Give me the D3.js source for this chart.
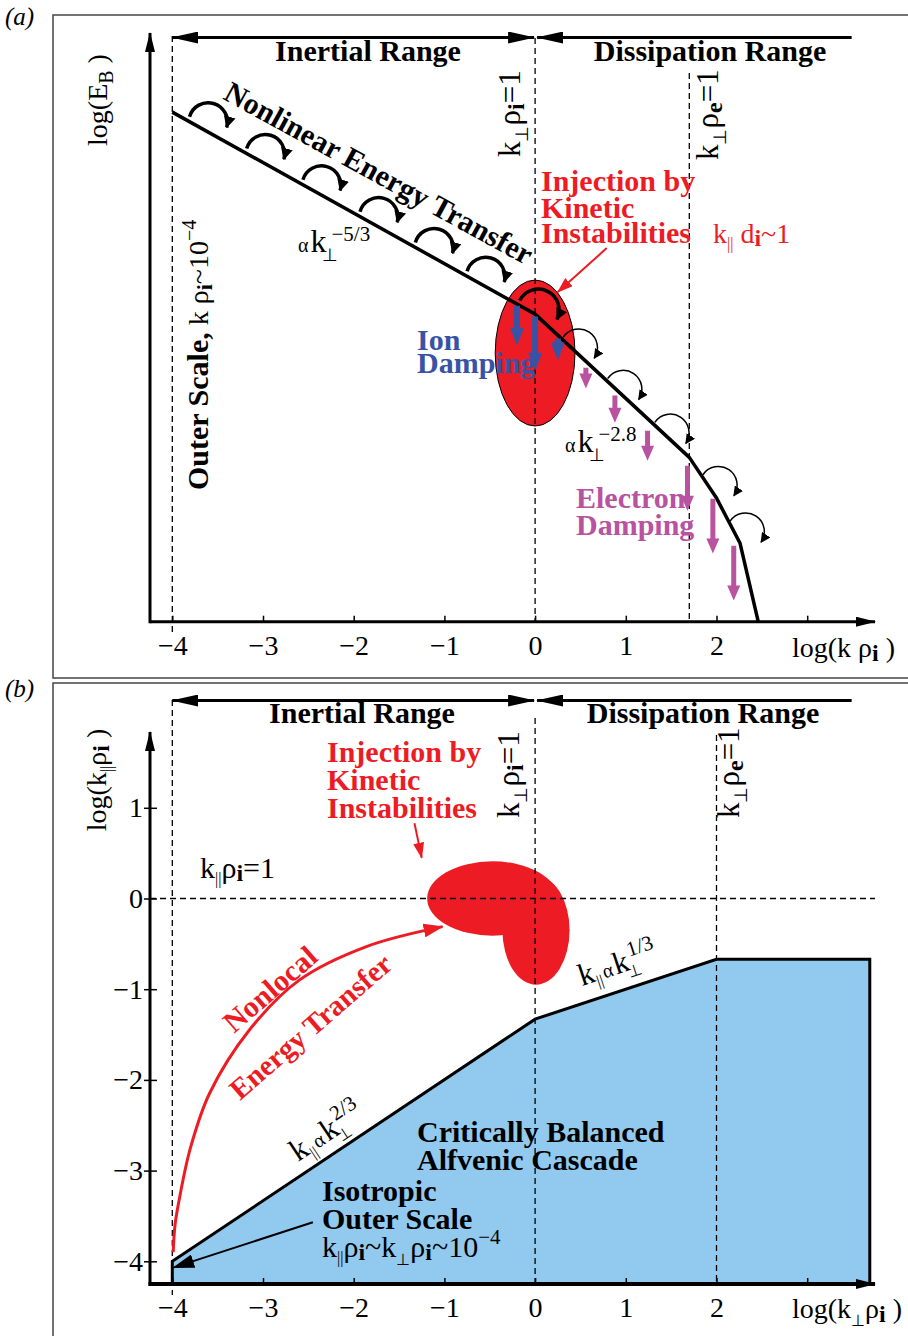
<!DOCTYPE html>
<html>
<head>
<meta charset="utf-8">
<script src="https://cdn.jsdelivr.net/npm/d3@7"></script>
<style>
  body { margin: 0; background: #fff; }
  svg text { font-family: "Liberation Serif", "Times New Roman", serif; }
</style>
</head>
<body>
<svg width="908" height="1336"></svg>
<script>
// ---- data ----
const xTicks = [-4, -3, -2, -1, 0, 1, 2, 3];
const xTickLabels = ["−4", "−3", "−2", "−1", "0", "1", "2", ""];
const yTicksB = [-4, -3, -2, -1, 0, 1];
const yTickLabelsB = ["−4", "−3", "−2", "−1", "0", "1"];

// (a) magnetic energy spectrum, log(k rho_i) vs log(E_B) (arbitrary units)
const specK = [-4, 0, 1.7, 2.0, 2.26, 2.46];
const specE = [16.9, 10.2, 5.45, 4.1, 2.6, 0];
// cascade "hops" along the spectrum (start positions)
const hopInertial = [-3.81, -3.18, -2.56, -1.93, -1.32, -0.75, -0.17];
const hopDissip = [0.31, 0.8, 1.32, 1.85, 2.15];
// damping arrows
const ionK = [-0.2, 0, 0.25];
const ionTop = [10.48, 10.12, 9.39];
const ionBot = [9.15, 8.32, 8.66];
const elecK = [0.56, 0.88, 1.24, 1.68, 1.96, 2.19];
const elecTop = [8.42, 7.5, 6.33, 5.17, 4.08, 2.52];
const elecBot = [7.73, 6.6, 5.34, 3.68, 2.26, 0.7];
// injection region (centre, radii) in (a)
const injCenterA = [0, 8.91];
const injRadiusA = [0.44, 2.42];
const kRhoE = 1.7;

// (b) wavevector space, log(k_perp rho_i) vs log(k_par rho_i)
const balPerp = [-4, 0, 2, 3.69];
const balPar = [-4, -1.33, -0.67, -0.67];
const injLobesB = [
  {k: -0.47, p: 0.0, rk: 0.72, rp: 0.41},
  {k: 0.01, p: -0.35, rk: 0.37, rp: 0.6}
];
const nlPerp = [-3.99, -3.97, -3.92, -3.80, -3.59, -3.15, -2.6, -1.86, -1.02];
const nlPar = [-3.9, -3.6, -3.3, -2.75, -2.15, -1.45, -0.9, -0.53, -0.31];

const red = "#ed1c24", blue = "#3953a4", magenta = "#b9529f", lightBlue = "#92c9ee";

const svg = d3.select("svg");
const defs = svg.append("defs");

function marker(id, len, hw, color) {
  defs.append("marker")
    .attr("id", id)
    .attr("viewBox", `0 ${-hw} ${len} ${2 * hw}`)
    .attr("refX", len - 1).attr("refY", 0)
    .attr("markerWidth", len).attr("markerHeight", 2 * hw)
    .attr("markerUnits", "userSpaceOnUse")
    .attr("orient", "auto-start-reverse")
    .append("path")
    .attr("d", `M0,${-hw}L${len},0L0,${hw}Z`)
    .attr("fill", color);
}
marker("axArrow", 20, 5, "#000");
marker("rangeArrow", 27, 6, "#000");
marker("hopBig", 12, 6, "#000");
marker("hopSmall", 10, 5, "#000");
marker("redArrow", 16, 5.5, red);
marker("redBig", 20, 7, red);
marker("blackArrow", 22, 7, "#000");

function txt(g, x, y, parts, o = {}) {
  const t = g.append("text").attr("x", x).attr("y", y)
    .attr("font-size", o.size || 28).attr("fill", o.fill || "#000");
  if (o.bold) t.attr("font-weight", "bold");
  if (o.italic) t.attr("font-style", "italic");
  if (o.anchor) t.attr("text-anchor", o.anchor);
  if (o.rot) t.attr("transform", `rotate(${o.rot},${x},${y})`);
  (Array.isArray(parts) ? parts : [parts]).forEach(p => {
    if (typeof p === "string") p = {t: p};
    const s = t.append("tspan").text(p.t);
    if (p.dx != null) s.attr("dx", p.dx);
    if (p.dy != null) s.attr("dy", p.dy);
    if (p.size) s.attr("font-size", p.size);
    if (p.b) s.attr("font-weight", "bold");
    if (p.n) s.attr("font-weight", "normal");
  });
  return t;
}

function dashed(g, x1, y1, x2, y2) {
  g.append("line").attr("x1", x1).attr("y1", y1).attr("x2", x2).attr("y2", y2)
    .attr("stroke", "#000").attr("stroke-width", 1.3).attr("stroke-dasharray", "6,4");
}

function rangeArrows(g, x, y) {
  g.append("line").attr("x1", x(-4)).attr("y1", y).attr("x2", x(0) - 1).attr("y2", y)
    .attr("stroke", "#000").attr("stroke-width", 3)
    .attr("marker-start", "url(#rangeArrow)").attr("marker-end", "url(#rangeArrow)");
  g.append("line").attr("x1", x(0) + 2).attr("y1", y).attr("x2", x(3.49)).attr("y2", y)
    .attr("stroke", "#000").attr("stroke-width", 3)
    .attr("marker-start", "url(#rangeArrow)");
}

function styleAxis(sel) {
  sel.select(".domain").remove();
  sel.selectAll(".tick line").attr("stroke-width", 1.5);
  sel.selectAll(".tick text").attr("font-size", 28)
    .attr("font-family", "Liberation Serif, Times New Roman, serif");
}

// ---- panel frames ----
svg.append("rect").attr("x", 53).attr("y", 15).attr("width", 900).attr("height", 663)
  .attr("fill", "none").attr("stroke", "#444").attr("stroke-width", 1.5);
svg.append("rect").attr("x", 53).attr("y", 683).attr("width", 900).attr("height", 700)
  .attr("fill", "none").attr("stroke", "#444").attr("stroke-width", 1.5);

// ================= panel (a) =================
const xA = d3.scaleLinear().domain([-4, 3]).range([172.3, 807.2]);
const yA = d3.scaleLinear().domain([0, 19.5]).range([621.7, 33.7]);
const spec = d3.scaleLinear().domain(specK).range(specE);
const gA = svg.append("g");

txt(gA, 5, 25, "(a)", {size: 25, italic: true});

// injection ellipse
gA.append("ellipse")
  .attr("cx", xA(injCenterA[0])).attr("cy", yA(injCenterA[1]))
  .attr("rx", xA(injRadiusA[0]) - xA(0)).attr("ry", yA(0) - yA(injRadiusA[1]))
  .attr("fill", red).attr("stroke", "#000").attr("stroke-width", 1);

// dashed guides
dashed(gA, xA(-4), 36, xA(-4), yA(0) + 12);
dashed(gA, xA(0), 38, xA(0), yA(0));
dashed(gA, xA(kRhoE), 73, xA(kRhoE), yA(0));

rangeArrows(gA, xA, 37.5);
txt(gA, 368, 61, "Inertial Range", {size: 30, bold: true, anchor: "middle"});
txt(gA, 710, 61, "Dissipation Range", {size: 30, bold: true, anchor: "middle"});

// x axis
const axA = d3.axisBottom(xA).tickValues(xTicks).tickFormat((d, i) => xTickLabels[i])
  .tickSizeInner(-6).tickSizeOuter(0).tickPadding(13);
gA.append("g").attr("transform", `translate(0,${yA(0)})`).call(axA).call(styleAxis);
gA.append("line").attr("x1", 150).attr("y1", yA(0)).attr("x2", 875).attr("y2", yA(0))
  .attr("stroke", "#000").attr("stroke-width", 3).attr("marker-end", "url(#axArrow)");
gA.append("line").attr("x1", 150).attr("y1", yA(0) + 1.5).attr("x2", 150).attr("y2", 33)
  .attr("stroke", "#000").attr("stroke-width", 3).attr("marker-end", "url(#axArrow)");

// spectrum
gA.append("path")
  .attr("d", d3.line().x((d, i) => xA(specK[i])).y(d => yA(d))(specE))
  .attr("fill", "none").attr("stroke", "#000").attr("stroke-width", 3.5).attr("stroke-linejoin", "round");

// hops
hopInertial.forEach(k0 => {
  const k1 = k0 + 0.41;
  const sx = xA(k0), sy = yA(spec(k0)) - 5, ex = xA(k1), ey = yA(spec(k1)) - 15;
  gA.append("path").attr("d", `M${sx},${sy}A19,19 0 0 1 ${ex},${ey}`)
    .attr("fill", "none").attr("stroke", "#000").attr("stroke-width", 3.5)
    .attr("marker-end", "url(#hopBig)");
});
hopDissip.forEach(k0 => {
  const k1 = k0 + 0.32;
  const sx = xA(k0), sy = yA(spec(k0)) - 3, ex = xA(k1) + 2, ey = sy + 21;
  gA.append("path").attr("d", `M${sx},${sy}A17,17 0 0 1 ${ex},${ey}`)
    .attr("fill", "none").attr("stroke", "#000").attr("stroke-width", 1.5)
    .attr("marker-end", "url(#hopSmall)");
});

// damping arrows
function dropArrow(g, x, y0, y1, sw, hw, hl, color) {
  g.append("path")
    .attr("d", `M${x - sw / 2},${y0}L${x + sw / 2},${y0}L${x + sw / 2},${y1 - hl}L${x + hw},${y1 - hl}` +
               `L${x},${y1}L${x - hw},${y1 - hl}L${x - sw / 2},${y1 - hl}Z`)
    .attr("fill", color);
}
ionK.forEach((k, i) => dropArrow(gA, xA(k), yA(ionTop[i]), yA(ionBot[i]), 6, 7, 18, blue));
elecK.forEach((k, i) => dropArrow(gA, xA(k), yA(elecTop[i]), yA(elecBot[i]), 5, 6.5, 15, magenta));

// injection label + arrow
gA.append("line").attr("x1", xA(0.79)).attr("y1", yA(12.39)).attr("x2", xA(0.25)).attr("y2", yA(10.93))
  .attr("stroke", red).attr("stroke-width", 2).attr("marker-end", "url(#redArrow)");
txt(gA, 541, 191, "Injection by", {size: 30, bold: true, fill: red});
txt(gA, 541, 218, "Kinetic", {size: 30, bold: true, fill: red});
txt(gA, 541, 243, "Instabilities", {size: 30, bold: true, fill: red});
txt(gA, 713, 243, ["k", {t: "||", size: 16, dy: 6}, {t: " d", dy: -6}, {t: "i", b: true, size: 24, dy: 3}, {t: "~1", dy: -3}],
  {size: 28, fill: red});

txt(gA, 417, 350, "Ion", {size: 30, bold: true, fill: blue});
txt(gA, 417, 373, "Damping", {size: 30, bold: true, fill: blue});
txt(gA, 576, 508, "Electron", {size: 30, bold: true, fill: magenta});
txt(gA, 576, 535, "Damping", {size: 30, bold: true, fill: magenta});

txt(gA, 374, 182, "Nonlinear Energy Transfer", {size: 30, bold: true, anchor: "middle", rot: 28.8});

txt(gA, 298, 252, [{t: "α", size: 20}, {t: "k", size: 32, dx: 2}, {t: "⊥", size: 18, dx: -4, dy: 9},
  {t: "−5/3", size: 21, dx: -7, dy: -20}]);
txt(gA, 565, 452, [{t: "α", size: 20}, {t: "k", size: 32, dx: 2}, {t: "⊥", size: 18, dx: -4, dy: 9},
  {t: "−2.8", size: 21, dx: -7, dy: -20}]);

// rotated labels
const kRhoLabel = s => ["k", {t: "⊥", size: 18, dy: 8}, {t: "ρ", dy: -8}, {t: s, b: true, size: 24, dy: 4}, {t: "=1", dy: -4}];
txt(gA, 520, 157, kRhoLabel("i"), {size: 31, rot: -90});
txt(gA, 718, 160, kRhoLabel("e"), {size: 31, rot: -90});
txt(gA, 208, 490, [{t: "Outer Scale,", b: true, size: 30}, {t: " k ρ"}, {t: "i", b: true, size: 22, dy: 4},
  {t: "~10", dy: -4}, {t: "−4", size: 20, dy: -12}], {size: 28, rot: -90});
txt(gA, 107, 100, ["log(E", {t: "B", size: 20, dy: 6}, {t: " )", dy: -6}], {size: 28, rot: -90, anchor: "middle"});
txt(gA, 792, 657, ["log(k ρ", {t: "i", b: true, size: 24, dy: 4}, {t: " )", dy: -4}], {size: 28});

// ================= panel (b) =================
const xB = d3.scaleLinear().domain([-4, 3]).range([172.3, 807.2]);
const yB = d3.scaleLinear().domain([-4, 1]).range([1261.3, 807.8]);
const gB = svg.append("g");
const yBot = yB(-4.25);

txt(gB, 5, 697, "(b)", {size: 25, italic: true});

// critically balanced region
const balPts = balPerp.map((k, i) => [xB(k), yB(balPar[i])]);
const last = balPerp[balPerp.length - 1];
gB.append("path")
  .attr("d", d3.line()(balPts.concat([[xB(last), yBot], [xB(-4), yBot]])) + "Z")
  .attr("fill", lightBlue).attr("stroke", "none");

// injection lobes
injLobesB.forEach(l => {
  gB.append("ellipse").attr("cx", xB(l.k)).attr("cy", yB(l.p))
    .attr("rx", xB(l.rk) - xB(0)).attr("ry", yB(0) - yB(l.rp)).attr("fill", red);
});

dashed(gB, xB(-4), 700, xB(-4), yBot + 11);
dashed(gB, xB(0), 718, xB(0), yBot);
dashed(gB, xB(2), 735, xB(2), yBot);
dashed(gB, 150, yB(0), 875, yB(0));

gB.append("path")
  .attr("d", d3.line()([[xB(-4), yBot]].concat(balPts).concat([[xB(last), yBot]])))
  .attr("fill", "none").attr("stroke", "#000").attr("stroke-width", 3).attr("stroke-linejoin", "miter");

rangeArrows(gB, xB, 700.5);
txt(gB, 362, 723, "Inertial Range", {size: 30, bold: true, anchor: "middle"});
txt(gB, 703, 723, "Dissipation Range", {size: 30, bold: true, anchor: "middle"});

// axes
const axBx = d3.axisBottom(xB).tickValues(xTicks).tickFormat((d, i) => xTickLabels[i])
  .tickSizeInner(-6).tickSizeOuter(0).tickPadding(13);
gB.append("g").attr("transform", `translate(0,${yBot})`).call(axBx).call(styleAxis);
const axBy = d3.axisLeft(yB).tickValues(yTicksB).tickFormat((d, i) => yTickLabelsB[i])
  .tickSizeInner(0).tickSizeOuter(0).tickPadding(7);
gB.append("g").attr("transform", "translate(150,0)").call(axBy).call(styleAxis)
  .call(g => g.selectAll(".tick").append("line").attr("x1", -6).attr("x2", 7)
    .attr("stroke", "#000").attr("stroke-width", 1.5));
gB.append("line").attr("x1", 148.5).attr("y1", yBot).attr("x2", 875).attr("y2", yBot)
  .attr("stroke", "#000").attr("stroke-width", 4).attr("marker-end", "url(#axArrow)");
gB.append("line").attr("x1", 150).attr("y1", yBot + 2).attr("x2", 150).attr("y2", 732)
  .attr("stroke", "#000").attr("stroke-width", 3).attr("marker-end", "url(#axArrow)");

// nonlocal transfer
gB.append("path")
  .attr("d", d3.line().curve(d3.curveCatmullRom.alpha(0.5)).x((d, i) => xB(nlPerp[i])).y(d => yB(d))(nlPar))
  .attr("fill", "none").attr("stroke", red).attr("stroke-width", 3).attr("marker-end", "url(#redBig)");
txt(gB, 234, 1034, "Nonlocal", {size: 30, bold: true, fill: red, rot: -41});
txt(gB, 240, 1101, "Energy Transfer", {size: 29, bold: true, fill: red, rot: -41});

// injection label
gB.append("line").attr("x1", xB(-1.33)).attr("y1", yB(0.83)).attr("x2", xB(-1.25)).attr("y2", yB(0.45))
  .attr("stroke", red).attr("stroke-width", 2).attr("marker-end", "url(#redArrow)");
txt(gB, 327, 762, "Injection by", {size: 30, bold: true, fill: red});
txt(gB, 327, 790, "Kinetic", {size: 30, bold: true, fill: red});
txt(gB, 327, 818, "Instabilities", {size: 30, bold: true, fill: red});

txt(gB, 200, 878, ["k", {t: "||", size: 16, dy: 6}, {t: "ρ", dy: -6}, {t: "i", b: true, size: 24, dy: 3}, {t: "=1", dy: -3}], {size: 30});

txt(gB, 519, 818, kRhoLabel("i"), {size: 31, rot: -90});
txt(gB, 739, 818, kRhoLabel("e"), {size: 31, rot: -90});

const scalingLabel = e => ["k", {t: "||", size: 16, dy: 6}, {t: "α", size: 20, dy: -6, dx: 2}, {t: "k", dx: 2},
  {t: "⊥", size: 16, dx: -4, dy: 8}, {t: e, size: 21, dx: -8, dy: -21}];
txt(gB, 298, 1162, scalingLabel("2/3"), {size: 31, rot: -33.7});
txt(gB, 582, 986, scalingLabel("1/3"), {size: 31, rot: -18.4});

txt(gB, 417, 1142, "Critically Balanced", {size: 30, bold: true});
txt(gB, 417, 1170, "Alfvenic Cascade", {size: 30, bold: true});
txt(gB, 322, 1201, "Isotropic", {size: 30, bold: true});
txt(gB, 322, 1229, "Outer Scale", {size: 30, bold: true});
txt(gB, 322, 1257, ["k", {t: "||", size: 16, dy: 6}, {t: "ρ", dy: -6}, {t: "i", b: true, size: 24, dy: 3},
  {t: "~k", dy: -3}, {t: "⊥", size: 16, dy: 8}, {t: "ρ", dy: -8}, {t: "i", b: true, size: 24, dy: 3},
  {t: "~10", dy: -3}, {t: "−4", size: 21, dy: -13}], {size: 30});
gB.append("line").attr("x1", xB(-2.45)).attr("y1", yB(-3.57)).attr("x2", xB(-3.99)).attr("y2", yB(-4.07))
  .attr("stroke", "#000").attr("stroke-width", 2).attr("marker-end", "url(#blackArrow)");

txt(gB, 106, 780, ["log(k", {t: "||", size: 16, dy: 6}, {t: "ρ", dy: -6}, {t: "i", b: true, size: 24, dy: 3}, {t: " )", dy: -3}],
  {size: 28, rot: -90, anchor: "middle"});
txt(gB, 792, 1318, ["log(k", {t: "⊥", size: 16, dy: 8}, {t: "ρ", dy: -8}, {t: "i", b: true, size: 24, dy: 4}, {t: " )", dy: -4}], {size: 28});
</script>
</body>
</html>
